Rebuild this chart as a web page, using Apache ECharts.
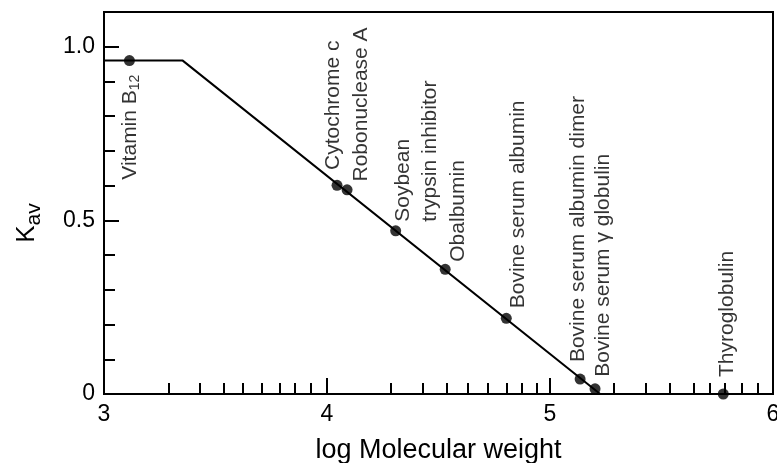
<!DOCTYPE html>
<html>
<head>
<meta charset="utf-8">
<script src="https://cdn.jsdelivr.net/npm/echarts@6/dist/echarts.min.js"></script>
<style>
  html, body { margin: 0; padding: 0; background: #fff; }
  #chart { width: 777px; height: 463px; }
</style>
</head>
<body>
<div id="chart"></div>
<script>
const FONT = '"Liberation Sans", Arial, Helvetica, sans-serif';

// Gel-filtration calibration standards
const proteins = [
  'Vitamin B12', 'Cytochrome c', 'Robonuclease A', 'Soybean\ntrypsin inhibitor',
  'Obalbumin', 'Bovine serum albumin', 'Bovine serum albumin dimer',
  'Bovine serum γ globulin', 'Thyroglobulin'
];
const logMW = [3.114, 4.045, 4.090, 4.308, 4.530, 4.804, 5.135, 5.202, 5.777];
const kav   = [0.960, 0.601, 0.588, 0.470, 0.359, 0.218, 0.043, 0.015, 0.000];

// Calibration curve (plateau, then linear fall-off)
const curveLogMW = [3.0, 3.353, 5.225];
const curveKav   = [0.960, 0.960, 0.000];

// Axis ticks
const xMajorTicks  = [3, 4, 5, 6];
const xMajorLabels = ['3', '4', '5', '6'];
const xMinorTicks  = [
  3.290, 3.429, 3.537, 3.624, 3.707, 3.786, 3.857, 3.928,
  4.284, 4.430, 4.538, 4.630, 4.720, 4.804, 4.872, 4.941,
  5.284, 5.430, 5.538, 5.643, 5.717, 5.785, 5.860, 5.931
];
const yMajorTicks  = [0, 0.5, 1.0];
const yMajorLabels = ['0', '0.5', '1.0'];
const yMinorTicks  = [0.1, 0.2, 0.3, 0.4, 0.6, 0.7, 0.8, 0.9];

// Where each vertical label starts, relative to its dot: [dx, dy, align]
const labelPlacement = [
  [0.7, 14, 'right'],
  [-3.7, -15.3, 'left'],
  [14.6, -8.3, 'left'],
  [21.2, -9, 'left'],
  [13, -7.6, 'left'],
  [12, -10, 'left'],
  [-2, -17, 'left'],
  [8, -12, 'left'],
  [3.7, -17, 'left']
];

const DOT = 11;

const chart = echarts.init(document.getElementById('chart'), null, { renderer: 'canvas' });

const pointData = logMW.map((x, i) => {
  const [dx, dy, align] = labelPlacement[i];
  return {
    value: [x, kav[i]],
    name: proteins[i],
    label: {
      position: [DOT / 2 + dx, DOT / 2 + dy],
      align: align
    }
  };
});

const option = {
  animation: false,
  backgroundColor: '#fff',
  textStyle: { fontFamily: FONT, color: '#000' },
  grid: {
    left: 104, right: 4, top: 12, bottom: 69,
    show: true, borderColor: '#000', borderWidth: 2,
    outerBoundsMode: 'none'
  },
  xAxis: [
    {
      type: 'value', min: 3, max: 6, interval: 1,
      name: 'log Molecular weight',
      nameLocation: 'middle', nameGap: 43, nameMoveOverlap: false,
      nameTextStyle: { fontFamily: FONT, fontSize: 27, color: '#000' },
      axisLine: { show: true, onZero: false, lineStyle: { color: '#000', width: 2 } },
      axisTick: { show: true, inside: true, length: 16, customValues: xMajorTicks,
                  lineStyle: { color: '#000', width: 2 } },
      axisLabel: {
        show: true, margin: 9, fontFamily: FONT, fontSize: 23, color: '#000',
        customValues: xMajorTicks,
        formatter: v => xMajorLabels[xMajorTicks.indexOf(v)]
      },
      splitLine: { show: false }
    },
    {
      type: 'value', min: 3, max: 6, position: 'bottom',
      axisLine: { show: false, onZero: false },
      axisTick: { show: true, inside: true, length: 11, customValues: xMinorTicks,
                  lineStyle: { color: '#000', width: 2 } },
      axisLabel: { show: false },
      splitLine: { show: false }
    }
  ],
  yAxis: [
    {
      type: 'value', min: 0, max: 1.1, interval: 0.5,
      name: '{k|K}{s|av}',
      nameLocation: 'middle', nameRotate: 90, nameGap: 63, nameMoveOverlap: false,
      nameTextStyle: {
        fontFamily: FONT, color: '#000', padding: [0, 40, 0, 0],
        rich: {
          k: { fontFamily: FONT, fontSize: 26, lineHeight: 28, color: '#000' },
          s: { fontFamily: FONT, fontSize: 21, lineHeight: 24, color: '#000', padding: [15, 0, 0, 0] }
        }
      },
      axisLine: { show: true, onZero: false, lineStyle: { color: '#000', width: 2 } },
      axisTick: { show: true, inside: true, length: 15, customValues: yMajorTicks,
                  lineStyle: { color: '#000', width: 2 } },
      axisLabel: {
        show: true, margin: 9, fontFamily: FONT, fontSize: 23, color: '#000',
        customValues: yMajorTicks,
        formatter: v => yMajorLabels[yMajorTicks.indexOf(v)]
      },
      splitLine: { show: false }
    },
    {
      type: 'value', min: 0, max: 1.1, position: 'left',
      axisLine: { show: false, onZero: false },
      axisTick: { show: true, inside: true, length: 11, customValues: yMinorTicks,
                  lineStyle: { color: '#000', width: 2 } },
      axisLabel: { show: false },
      splitLine: { show: false }
    }
  ],
  series: [
    {
      type: 'line',
      xAxisIndex: 0, yAxisIndex: 0,
      data: curveLogMW.map((x, i) => [x, curveKav[i]]),
      showSymbol: false, symbol: 'none',
      lineStyle: { color: '#000', width: 2 },
      z: 2
    },
    {
      type: 'scatter',
      xAxisIndex: 0, yAxisIndex: 0,
      symbol: 'circle', symbolSize: DOT,
      itemStyle: { color: '#000' },
      data: pointData,
      label: {
        show: true,
        rotate: 90,
        verticalAlign: 'middle',
        fontFamily: FONT, fontSize: 21, lineHeight: 27, color: '#000',
        formatter: p => p.name.replace(/B12$/, 'B{sub|12}'),
        rich: {
          sub: { fontFamily: FONT, fontSize: 14, lineHeight: 16, color: '#000', padding: [10, 0, 0, 0] }
        }
      },
      z: 3
    }
  ]
};

chart.setOption(option);
</script>
</body>
</html>
